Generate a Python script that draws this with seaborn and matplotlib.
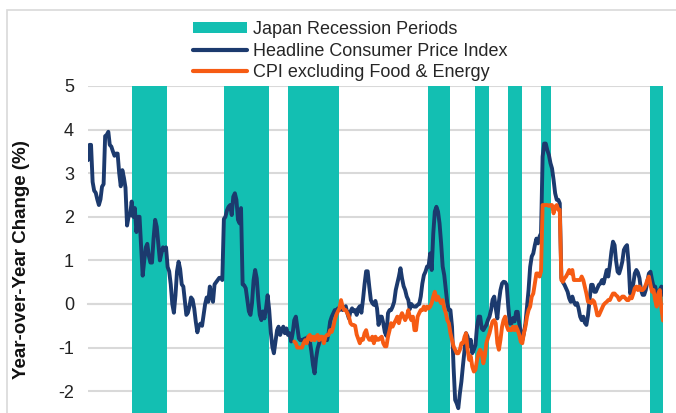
import pandas as pd
import matplotlib
matplotlib.use("Agg")
import matplotlib.pyplot as plt
import matplotlib.dates as mdates
from matplotlib.patches import Patch, Rectangle
from matplotlib.lines import Line2D
import seaborn as sns

# monthly year-over-year change (%)
START_HEADLINE = "1990-01-01"
headline = [
    # 1990
    3.3, 3.65, 3.65, 2.8, 2.6, 2.55, 2.4, 2.27, 2.4, 2.69, 2.75, 3.85,
    # 1991
    3.88, 3.95, 3.65, 3.61, 3.5, 3.4, 3.45, 3.45, 3.0, 2.7, 3.07, 2.9,
    # 1992
    2.67, 1.8, 2.0, 2.05, 2.35, 2.0, 2.2, 1.65, 2.0, 2.0, 1.3, 0.65,
    # 1993
    1.0, 1.3, 1.38, 1.1, 0.95, 0.95, 1.5, 1.93, 1.77, 1.4, 1.0, 1.16,
    # 1994
    1.3, 1.25, 1.3, 0.85, 0.75, 0.45, 0.0, -0.2, 0.2, 0.75, 0.97, 0.8,
    # 1995
    0.45, 0.4, 0.1, -0.25, -0.2, -0.05, 0.15, 0.1, -0.1, -0.4, -0.65, -0.5,
    # 1996
    -0.45, -0.5, -0.25, 0.0, 0.15, 0.05, 0.4, 0.2, 0.05, 0.45, 0.5, 0.55,
    # 1997
    0.6, 0.6, 0.55, 1.95, 2.0, 2.15, 2.23, 2.27, 2.04, 2.46, 2.54, 2.39,
    # 1998
    1.93, 1.85, 2.2, 0.45, 0.43, 0.36, 0.09, -0.17, -0.25, 0.02, 0.55, 0.78,
    # 1999
    0.59, 0.09, -0.25, -0.37, -0.17, -0.33, -0.1, 0.2, -0.14, -0.64, -0.98, -1.13,
    # 2000
    -0.86, -0.6, -0.52, -0.71, -0.6, -0.52, -0.67, -0.56, -0.71, -0.67, -0.86, -0.67,
    # 2001
    -0.37, -0.29, -0.52, -0.79, -0.83, -0.83, -0.81, -0.79, -0.79, -0.75, -0.86, -1.09,
    # 2002
    -1.4, -1.59, -1.25, -1.02, -0.9, -0.79, -0.79, -0.79, -0.79, -0.83, -0.67, -0.4,
    # 2003
    -0.29, -0.21, -0.14, -0.14, -0.1, -0.14, -0.06, -0.14, -0.1, -0.05, -0.21, -0.33,
    # 2004
    -0.17, -0.1, -0.17, -0.14, -0.25, -0.1, -0.05, -0.2, 0.1, 0.45, 0.75, 0.75,
    # 2005
    0.4, 0.09, 0.02, -0.02, 0.07, -0.1, -0.48, -0.29, -0.29, -0.44, -0.65, -0.73,
    # 2006
    -0.21, -0.14, -0.14, -0.06, 0.05, 0.32, 0.47, 0.63, 0.82, 0.59, 0.41, 0.32,
    # 2007
    0.17, 0.09, -0.12, 0.0, -0.05, -0.06, -0.06, -0.02, 0.0, 0.17, 0.47, 0.66,
    # 2008
    0.74, 0.86, 0.86, 1.16, 0.78, 1.62, 2.12, 2.23, 2.12, 1.85, 1.39, 0.86,
    # 2009
    0.66, 0.32, 0.02, -0.14, -0.14, -0.52, -1.44, -2.2, -2.28, -2.39, -2.05, -1.78,
    # 2010
    -1.4, -1.05, -0.67, -0.75, -0.97, -0.82, -1.13, -1.05, -0.94, -0.52, -0.29, -0.29,
    # 2011
    -0.56, -0.6, -0.54, -0.48, -0.37, -0.29, -0.14, 0.1, 0.17, -0.1, -0.33, 0.05,
    # 2012
    0.32, 0.47, 0.51, 0.5, 0.44, -0.06, -0.45, -0.45, -0.32, -0.4, -0.18, -0.18,
    # 2013
    -0.45, -0.67, -0.83, -0.67, -0.45, -0.06, 0.32, 0.85, 1.09, 1.16, 1.35, 1.5,
    # 2014
    1.39, 1.55, 1.62, 3.38, 3.68, 3.68, 3.53, 3.42, 3.23, 3.11, 2.84, 2.54,
    # 2015
    2.39, 2.39, 2.31, 0.6, 0.5, 0.44, 0.36, 0.28, 0.13, 0.05, 0.17, 0.05,
    # 2016
    -0.02, 0.02, -0.1, -0.29, -0.37, -0.29, -0.43, -0.48, -0.26, 0.09, 0.44, 0.44,
    # 2017
    0.28, 0.28, 0.36, 0.44, 0.47, 0.55, 0.47, 0.63, 0.78, 0.63, 0.89, 1.2,
    # 2018
    1.43, 1.35, 1.0, 0.74, 0.7, 0.82, 0.97, 1.24, 1.31, 1.35, 0.93, 0.24,
    # 2019
    0.32, 0.47, 0.7, 0.78, 0.72, 0.59, 0.32, 0.21, 0.21, 0.32, 0.51, 0.7,
    # 2020
    0.74, 0.55, 0.4, 0.4, 0.24, 0.13, 0.32, 0.4, 0.21,
]

START_CORE = "2001-01-01"
core = [
    # 2001
    -0.86, -0.9, -1.0, -1.0, -1.0, -1.0, -0.9, -0.83, -0.9, -0.75, -0.71, -0.83,
    # 2002
    -0.75, -0.83, -0.75, -0.71, -0.83, -0.75, -0.75, -0.9, -0.75, -0.71, -0.71, -0.6,
    # 2003
    -0.64, -0.52, -0.37, -0.25, -0.17, -0.1, 0.09, -0.06, -0.14, -0.14, -0.21, -0.29,
    # 2004
    -0.44, -0.48, -0.48, -0.5, -0.7, -0.8, -0.9, -0.8, -0.82, -0.67, -0.6, -0.75,
    # 2005
    -0.82, -0.82, -0.75, -0.9, -0.75, -0.82, -0.82, -0.78, -0.75, -0.9, -0.97, -0.97,
    # 2006
    -0.75, -0.6, -0.44, -0.52, -0.44, -0.37, -0.29, -0.44, -0.29, -0.21, -0.29, -0.37,
    # 2007
    -0.29, -0.14, -0.29, -0.37, -0.29, -0.6, -0.6, -0.29, -0.21, -0.14, -0.14, -0.06,
    # 2008
    -0.14, -0.06, -0.1, -0.06, 0.02, 0.17, 0.28, 0.09, 0.17, 0.09, 0.02, 0.09,
    # 2009
    -0.1, -0.21, -0.37, -0.44, -0.67, -0.82, -0.97, -1.05, -1.13, -1.13, -1.05, -0.9,
    # 2010
    -0.9, -0.75, -0.67, -1.05, -1.28, -1.2, -1.44, -1.55, -1.51, -1.28, -1.13, -1.05,
    # 2011
    -1.13, -1.36, -1.2, -0.9, -0.78, -0.67, -0.52, -0.4, -0.37, -0.44, -0.9, -1.05,
    # 2012
    -0.82, -0.52, -0.37, -0.29, -0.5, -0.6, -0.58, -0.6, -0.52, -0.6, -0.52, -0.6,
    # 2013
    -0.71, -0.87, -0.9, -0.67, -0.52, -0.29, -0.14, -0.06, 0.17, 0.24, 0.47, 0.7,
    # 2014
    0.7, 0.63, 0.75, 2.27, 2.27, 2.27, 2.27, 2.25, 2.27, 2.27, 2.08, 2.23,
    # 2015
    2.27, 2.16, 2.16, 0.55, 0.51, 0.59, 0.63, 0.7, 0.78, 0.7, 0.78, 0.55,
    # 2016
    0.55, 0.55, 0.55, 0.55, 0.63, 0.55, 0.4, 0.24, 0.05, 0.05, 0.02, 0.09,
    # 2017
    0.05, -0.1, -0.26, -0.26, -0.18, -0.1, -0.02, 0.02, 0.05, 0.09, 0.09, 0.17,
    # 2018
    0.24, 0.24, 0.2, 0.17, 0.09, 0.13, 0.17, 0.17, 0.13, 0.09, 0.09, 0.17,
    # 2019
    0.13, 0.24, 0.36, 0.4, 0.32, 0.4, 0.32, 0.32, 0.36, 0.44, 0.55, 0.63,
    # 2020
    0.44, 0.28, 0.32, 0.09, -0.06, 0.24, 0.32, -0.1, -0.38,
]

recession_start = ["1992-05-15", "1997-04-01", "2000-09-05", "2008-02-20",
                   "2010-08-20", "2012-05-20", "2014-03-10", "2019-12-20"]
recession_end = ["1994-03-25", "1999-08-25", "2003-05-20", "2009-04-20",
                 "2011-05-20", "2013-02-15", "2014-09-20", "2020-09-01"]

labels = ["Japan Recession Periods", "Headline Consumer Price Index",
          "CPI excluding Food & Energy"]
yticks = [-2, -1, 0, 1, 2, 3, 4, 5]

TEAL = "#13bfb2"
NAVY = "#1c3a6e"
ORANGE = "#f65b13"
GRID = "#d9d9d9"

df_h = pd.DataFrame({"date": pd.date_range(START_HEADLINE, periods=len(headline), freq="MS"),
                     "value": headline})
df_c = pd.DataFrame({"date": pd.date_range(START_CORE, periods=len(core), freq="MS"),
                     "value": core})

sns.set_style("white")
plt.rcParams["font.family"] = ["Liberation Sans", "DejaVu Sans"]
plt.rcParams["axes.unicode_minus"] = False

W, H = 676, 413
fig = plt.figure(figsize=(W / 100, H / 100), dpi=100)
ax = fig.add_axes([88 / W, 0.0, (663 - 88) / W, (413 - 86) / H])

for s, e in zip(recession_start, recession_end):
    ax.axvspan(pd.Timestamp(s), pd.Timestamp(e), color=TEAL, lw=0, zorder=1)

sns.lineplot(data=df_h, x="date", y="value", color=NAVY, lw=2.8, ax=ax, zorder=3)
sns.lineplot(data=df_c, x="date", y="value", color=ORANGE, lw=2.8, ax=ax, zorder=4)
for ln in ax.lines:
    ln.set_solid_joinstyle("round")

ax.set_ylim(-2.5, 5)
ax.set_xlim(df_h["date"].iloc[0], df_h["date"].iloc[-1])
ax.set_yticks(yticks)
ax.set_yticklabels([str(t) for t in yticks])
ax.set_axisbelow(True)
ax.grid(axis="y", color=GRID, lw=1.5)
ax.grid(axis="x", visible=False)

for side in ["top", "right", "left"]:
    ax.spines[side].set_visible(False)
ax.spines["bottom"].set_position(("data", 0))
ax.spines["bottom"].set_color(GRID)
ax.spines["bottom"].set_linewidth(1.5)
ax.spines["bottom"].set_zorder(0.6)

ax.xaxis.set_major_locator(mdates.YearLocator())
ax.tick_params(axis="x", direction="in", length=3, width=1, color=GRID,
               labelbottom=False)
ax.tick_params(axis="y", length=0, pad=10, labelsize=13, labelcolor="#222222")
ax.set_xlabel("")
ax.set_ylabel("")

fig.text(21.5 / W, 1 - 260 / H, "Year-over-Year Change (%)", rotation=90,
         ha="center", va="center", fontsize=13.5, fontweight="bold", color="#111111")

handles = [Patch(facecolor=TEAL, edgecolor="none"),
           Line2D([], [], color=NAVY, lw=3),
           Line2D([], [], color=ORANGE, lw=3)]
fig.legend(handles, labels, loc="upper left", bbox_to_anchor=(193 / W, 1 - 21 / H),
           frameon=False, fontsize=13, handlelength=3.0, handleheight=0.55,
           handletextpad=0.3, labelspacing=0.25, borderpad=0, borderaxespad=0)

fig.add_artist(Rectangle((7 / W, -0.1), 1.2, 1.1 - 10 / H, transform=fig.transFigure,
                         fill=False, edgecolor=GRID, lw=1.2))

fig.savefig("out.png", dpi=100)
